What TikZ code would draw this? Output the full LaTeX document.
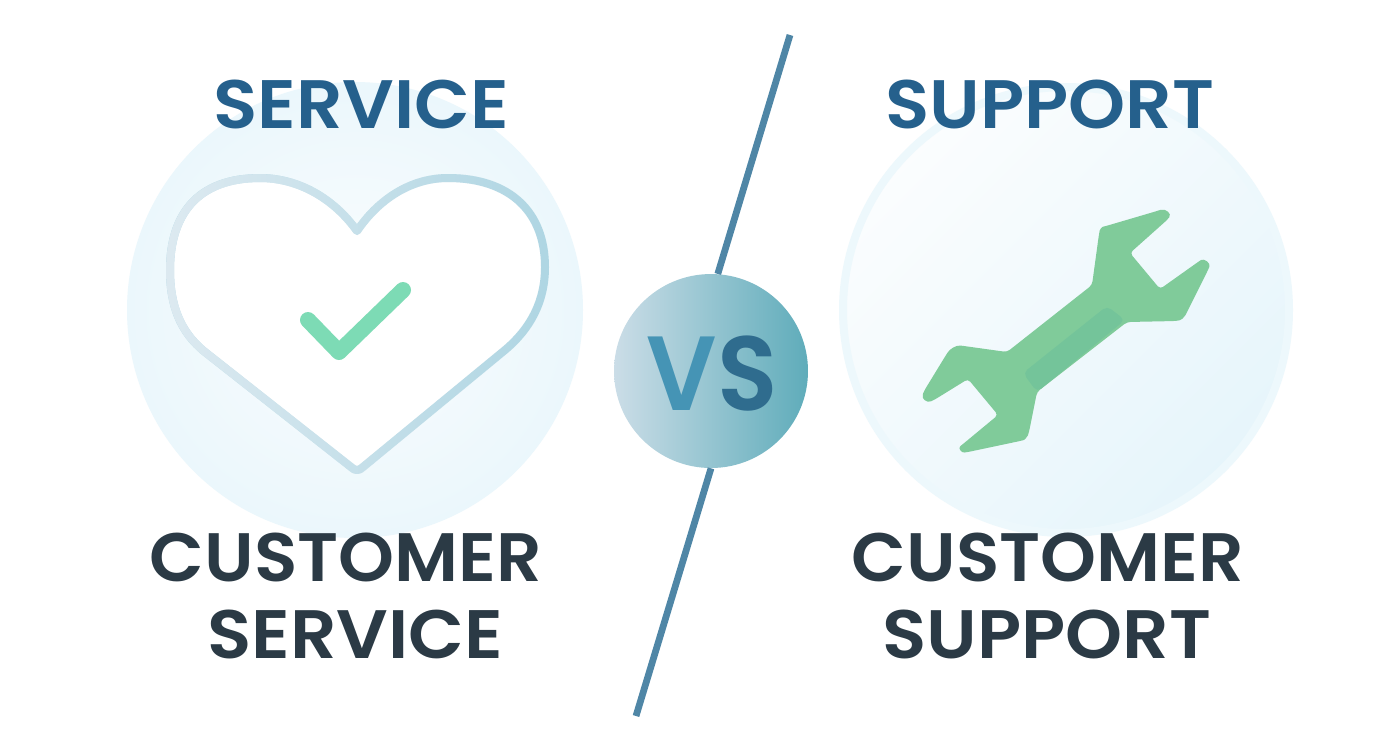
\documentclass[tikz,border=0pt]{standalone}
\usepackage{fontspec}
\setmainfont{Poppins}[BoldFont={Poppins SemiBold}]
\usetikzlibrary{fadings}
\definecolor{titleblue}{HTML}{25608C}
\definecolor{labeldark}{HTML}{2B3A45}
\definecolor{dividerblue}{HTML}{4F86A6}
\definecolor{bubbleedge}{HTML}{E6F5FB}
\definecolor{bubblecore}{HTML}{FBFDFE}
\definecolor{heartlight}{HTML}{DDEAF1}
\definecolor{heartdark}{HTML}{AFD6E3}
\definecolor{checkgreen}{HTML}{7DDBB5}
\definecolor{wrenchgreen}{HTML}{80CB9A}
\definecolor{gripgreen}{HTML}{74C49A}
\definecolor{vsleft}{HTML}{CBDDE7}
\definecolor{vsright}{HTML}{5FACBA}
\definecolor{vsfirst}{HTML}{4594B5}
\definecolor{vssecond}{HTML}{2F6C8E}
\tikzset{
	bigword/.style={font=\bfseries\fontsize{39}{39}\selectfont, anchor=base, inner sep=0pt, xscale=1.06},
	titleword/.style={bigword, text=titleblue},
	labelword/.style={bigword, text=labeldark},
	heartline/.style={line width=0.16cm, line join=round},
	dividerline/.style={dividerblue, line width=0.135cm},
}
\newcommand{\heartoutline}{(357,231) .. controls (335,200) and (300,178) .. (260,178) .. controls (197,178) and (170,215) .. (170,270) .. controls (170,305) and (180,332) .. (205,352) -- (351,467) .. controls (355,471) and (359,471) .. (363,467) -- (505,350) .. controls (530,329) and (545,302) .. (545,267) .. controls (545,212) and (510,178) .. (448,178) .. controls (410,178) and (378,200) .. cycle}
\begin{document}
\begin{tikzpicture}[x=0.02cm,y=-0.02cm]
	\useasboundingbox (0,0) rectangle (1392,752);
	\fill[white] (0,0) rectangle (1392,752);
	\shade[inner color=bubblecore, outer color=bubbleedge!80!white] (355,310) circle (228);
	\shade[top color=bubblecore, bottom color=bubbleedge, shading angle=45] (1066,310) circle (226);
	\draw[bubbleedge!70!white, line width=0.16cm] (1066,310) circle (223);
	\fill[white] \heartoutline;
	\draw[heartline, heartdark] \heartoutline;
	\draw[heartline, heartlight, path fading=east] \heartoutline;
	\draw[checkgreen, line width=0.32cm, line cap=round, line join=round] (308,320) -- (339,352) -- (403,290);
	\fill[wrenchgreen, rounded corners=2pt] (1157,211) .. controls (1166,208) and (1172,214) .. (1167,220) -- (1130,253) -- (1160,289) -- (1198,262) .. controls (1204,258) and (1211,263) .. (1208,270) -- (1187,312) .. controls (1184,318) and (1181,320) .. (1176,321) -- (1127,322) -- (1037,392) -- (1029,432) .. controls (1027,438) and (1024,440) .. (1020,441) -- (968,452) .. controls (961,453) and (958,448) .. (963,444) -- (998,415) -- (968,379) -- (934,400) .. controls (927,403) and (921,399) .. (924,391) -- (946,355) .. controls (950,349) and (956,345) .. (964,346) -- (1007,352) -- (1092,285) -- (1099,234) .. controls (1100,229) and (1102,227) .. (1106,226) -- cycle;
	\fill[gripgreen, rounded corners=3pt] (1023,373) -- (1107,306) -- (1125,320) -- (1037,392) -- cycle;
	\coordinate (linetop) at (790,35);
	\coordinate (linebottom) at (636,716);
	\node[circle, minimum size=3.88cm, inner sep=0pt, left color=vsleft, right color=vsright] (vscircle) at (711,371) {};
	\node[titleword] (servicetitle) at (361,128) {SERVICE};
	\node[titleword] (supporttitle) at (1050,128) {SUPPORT};
	\node[labelword, xscale=0.98] (customerleft) at (346,581) {CUSTOMER};
	\node[labelword] (servicelabel) at (355,658) {SERVICE};
	\node[labelword, xscale=0.98] (customerright) at (1048,581) {CUSTOMER};
	\node[labelword] (supportlabel) at (1047,658) {SUPPORT};
	\node[font=\bfseries\fontsize{60}{60}\selectfont, anchor=base, inner sep=0pt, xscale=0.94] (vslabel) at (712,410) {\textcolor{vsfirst}{V}\textcolor{vssecond}{S}};
	\draw[dividerline] (linetop) -- (vscircle.86);
	\draw[dividerline] (vscircle.270) -- (linebottom);
\end{tikzpicture}
\end{document}
